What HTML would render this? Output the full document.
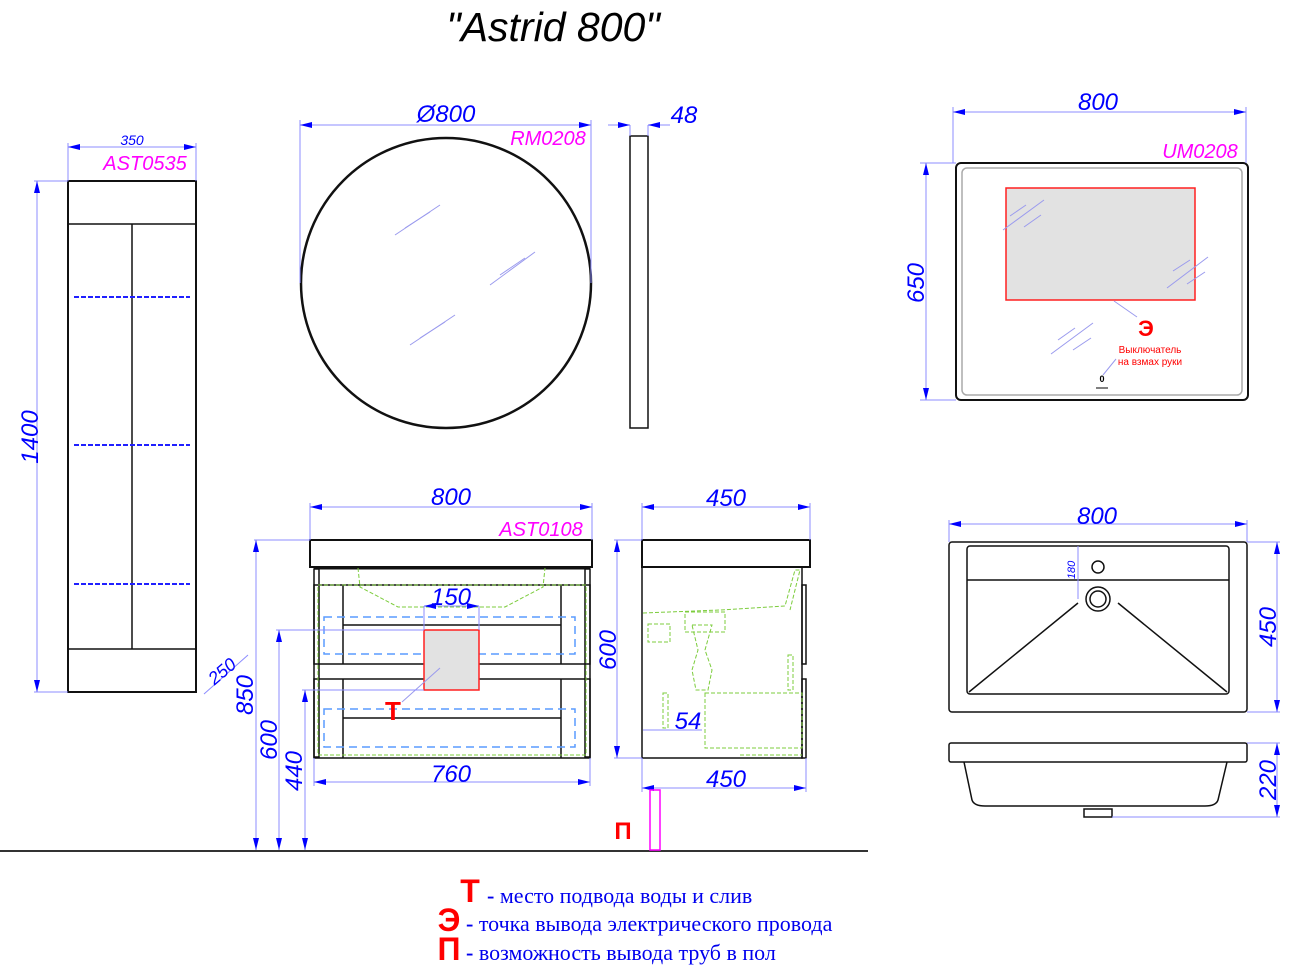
<!DOCTYPE html>
<html><head><meta charset="utf-8"><style>
html,body{margin:0;padding:0;background:#fff;}
svg{display:block;}
.d{font-family:"Liberation Sans",sans-serif;font-style:italic;fill:#0000ff;font-size:24px;text-anchor:middle;}
.m{font-family:"Liberation Sans",sans-serif;font-style:italic;fill:#ff00ff;font-size:20px;text-anchor:middle;}
.dl{stroke:#8c8cff;stroke-width:1;fill:none;}
.k{stroke:#111;stroke-width:2;fill:none;}
.k1{stroke:#111;stroke-width:1.5;fill:none;}
.g{stroke:#7ccc3c;stroke-width:1;fill:none;stroke-dasharray:4 2;}
.bd{stroke:#5a9cff;stroke-width:1.5;fill:none;stroke-dasharray:8 5;}
.gl{stroke:#9a9aee;stroke-width:1;}
.lg{font-family:"Liberation Serif",serif;fill:#0000ee;font-size:22px;}
.rb{font-family:"Liberation Sans",sans-serif;font-weight:bold;fill:#ff0000;}
</style></head><body>
<svg width="1312" height="967" viewBox="0 0 1312 967" xmlns="http://www.w3.org/2000/svg">
<defs>
<marker id="a" viewBox="0 0 12 6" refX="12" refY="3" markerWidth="12" markerHeight="6" orient="auto-start-reverse" markerUnits="userSpaceOnUse"><path d="M0,0 L12,3 L0,6 z" fill="#0000ff"/></marker>
</defs>
<text x="553" y="41" style="font-family:'Liberation Sans',sans-serif;font-style:italic;font-size:41px;text-anchor:middle;fill:#000">"Astrid 800"</text>

<!-- tall cabinet -->
<rect x="68" y="181" width="128" height="511" class="k"/>
<line x1="68" y1="224" x2="196" y2="224" class="k1"/>
<line x1="68" y1="649" x2="196" y2="649" class="k1"/>
<line x1="132" y1="224" x2="132" y2="649" class="k1"/>
<g stroke="#2020ff" stroke-width="2" stroke-dasharray="5 2">
<line x1="74" y1="297" x2="190" y2="297"/><line x1="74" y1="445" x2="190" y2="445"/><line x1="74" y1="584" x2="190" y2="584"/></g>
<line x1="68" y1="143" x2="68" y2="181" class="dl"/><line x1="196" y1="143" x2="196" y2="181" class="dl"/>
<line x1="68" y1="147" x2="196" y2="147" class="dl" marker-start="url(#a)" marker-end="url(#a)"/>
<text x="132" y="145" class="d" style="font-size:14px">350</text>
<text x="145" y="170" class="m">AST0535</text>
<line x1="34" y1="181" x2="68" y2="181" class="dl"/><line x1="34" y1="692" x2="68" y2="692" class="dl"/>
<line x1="37" y1="181" x2="37" y2="692" class="dl" marker-start="url(#a)" marker-end="url(#a)"/>
<text transform="translate(38,437) rotate(-90)" class="d">1400</text>
<line x1="204" y1="694" x2="248" y2="655" class="dl"/>
<text transform="translate(226,676) rotate(-40)" class="d" style="font-size:18px">250</text>

<!-- round mirror -->
<circle cx="446" cy="283" r="145" stroke="#111" stroke-width="2.5" fill="none"/>
<line x1="300" y1="120" x2="300" y2="283" class="dl"/><line x1="591" y1="120" x2="591" y2="283" class="dl"/>
<line x1="300" y1="125" x2="591" y2="125" class="dl" marker-start="url(#a)" marker-end="url(#a)"/>
<text x="446" y="122" class="d">Ø800</text>
<text x="548" y="145" class="m">RM0208</text>
<g class="gl"><line x1="395" y1="235" x2="440" y2="205"/><line x1="405" y1="228" x2="430" y2="212"/><line x1="490" y1="285" x2="535" y2="252"/><line x1="500" y1="275" x2="525" y2="258"/><line x1="410" y1="345" x2="455" y2="315"/><line x1="420" y1="338" x2="445" y2="322"/></g>
<rect x="630" y="136" width="18" height="292" class="k1"/>
<line x1="630" y1="125" x2="630" y2="136" class="dl"/><line x1="648" y1="125" x2="648" y2="136" class="dl"/>
<line x1="608" y1="125" x2="630" y2="125" class="dl" marker-end="url(#a)"/>
<line x1="670" y1="125" x2="648" y2="125" class="dl" marker-end="url(#a)"/>
<text x="684" y="123" class="d">48</text>

<!-- UM0208 mirror -->
<rect x="956" y="163" width="292" height="237" rx="5" class="k"/>
<rect x="962" y="168" width="280" height="227" rx="5" stroke="#aaa" stroke-width="1.5" fill="none"/>
<rect x="1006" y="188" width="189" height="112" fill="#e2e2e2" stroke="#ff2020" stroke-width="1.5"/>
<g class="gl"><line x1="1003" y1="230" x2="1044" y2="200"/><line x1="1010" y1="216" x2="1026" y2="205"/><line x1="1024" y1="227" x2="1041" y2="215"/><line x1="1167" y1="288" x2="1208" y2="257"/><line x1="1173" y1="271" x2="1190" y2="260"/><line x1="1187" y1="284" x2="1205" y2="272"/><line x1="1051" y1="354" x2="1093" y2="323"/><line x1="1058" y1="340" x2="1075" y2="328"/><line x1="1073" y1="350" x2="1091" y2="338"/><line x1="1114" y1="301" x2="1137" y2="317"/><line x1="1116" y1="359" x2="1103" y2="375"/></g>
<text x="1146" y="336" class="rb" style="font-size:22px;text-anchor:middle">Э</text>
<text x="1150" y="353" class="rb" style="font-size:10px;font-weight:normal;text-anchor:middle">Выключатель</text>
<text x="1150" y="365" class="rb" style="font-size:10px;font-weight:normal;text-anchor:middle">на взмах руки</text>
<text x="1102" y="382" style="font-family:'Liberation Sans',sans-serif;font-size:9px;font-weight:bold;text-anchor:middle">0</text>
<line x1="1096" y1="388" x2="1108" y2="388" stroke="#000" stroke-width="1"/>
<line x1="953" y1="107" x2="953" y2="163" class="dl"/><line x1="1246" y1="107" x2="1246" y2="163" class="dl"/>
<line x1="953" y1="112" x2="1246" y2="112" class="dl" marker-start="url(#a)" marker-end="url(#a)"/>
<text x="1098" y="110" class="d">800</text>
<text x="1200" y="158" class="m">UM0208</text>
<line x1="920" y1="163" x2="956" y2="163" class="dl"/><line x1="920" y1="400" x2="956" y2="400" class="dl"/>
<line x1="926" y1="163" x2="926" y2="400" class="dl" marker-start="url(#a)" marker-end="url(#a)"/>
<text transform="translate(924,283) rotate(-90)" class="d">650</text>

<!-- vanity front -->
<rect x="310" y="540" width="282" height="27" class="k"/>
<line x1="314" y1="568" x2="590" y2="568" stroke="#111" stroke-width="3"/>
<rect x="314" y="569" width="5" height="188" class="k1"/><rect x="585" y="569" width="5" height="188" class="k1"/>
<rect x="314" y="585" width="276" height="79" class="k1"/>
<rect x="314" y="679" width="276" height="79" class="k1"/>
<line x1="343" y1="585" x2="343" y2="664" class="k1"/><line x1="561" y1="585" x2="561" y2="664" class="k1"/>
<line x1="343" y1="679" x2="343" y2="758" class="k1"/><line x1="561" y1="679" x2="561" y2="758" class="k1"/>
<line x1="343" y1="625" x2="561" y2="625" class="k1"/><line x1="343" y1="718" x2="561" y2="718" class="k1"/>
<polyline points="358,568 360,587 398,607 505,607 543,587 545,568" class="g"/>
<rect x="318" y="585" width="268" height="170" class="g"/>
<rect x="324" y="617" width="251" height="37" class="bd"/>
<rect x="324" y="709" width="251" height="38" class="bd"/>
<rect x="424" y="630" width="55" height="60" fill="#e2e2e2" stroke="#ff2020" stroke-width="1.5"/>
<line x1="402" y1="702" x2="440" y2="668" class="gl"/>
<line x1="424" y1="606" x2="424" y2="630" class="dl"/><line x1="479" y1="606" x2="479" y2="630" class="dl"/>
<line x1="424" y1="606" x2="479" y2="606" class="dl" marker-start="url(#a)" marker-end="url(#a)"/>
<text x="451" y="605" class="d">150</text>
<line x1="310" y1="503" x2="310" y2="540" class="dl"/><line x1="592" y1="503" x2="592" y2="540" class="dl"/>
<line x1="310" y1="507" x2="592" y2="507" class="dl" marker-start="url(#a)" marker-end="url(#a)"/>
<text x="451" y="505" class="d">800</text>
<text x="541" y="536" class="m">AST0108</text>
<line x1="314" y1="758" x2="314" y2="786" class="dl"/><line x1="590" y1="758" x2="590" y2="786" class="dl"/>
<line x1="314" y1="782" x2="590" y2="782" class="dl" marker-start="url(#a)" marker-end="url(#a)"/>
<text x="451" y="782" class="d">760</text>
<text x="393" y="720" class="rb" style="font-size:26px;text-anchor:middle">Т</text>

<!-- height dims -->
<line x1="254" y1="540" x2="310" y2="540" class="dl"/>
<line x1="276" y1="630" x2="424" y2="630" class="dl"/>
<line x1="302" y1="690" x2="424" y2="690" class="dl"/>
<line x1="256" y1="540" x2="256" y2="850" class="dl" marker-start="url(#a)" marker-end="url(#a)"/>
<line x1="279" y1="630" x2="279" y2="850" class="dl" marker-start="url(#a)" marker-end="url(#a)"/>
<line x1="305" y1="690" x2="305" y2="850" class="dl" marker-start="url(#a)" marker-end="url(#a)"/>
<text transform="translate(253,695) rotate(-90)" class="d">850</text>
<text transform="translate(277,740) rotate(-90)" class="d">600</text>
<text transform="translate(302,771) rotate(-90)" class="d">440</text>
<line x1="0" y1="851" x2="868" y2="851" stroke="#333" stroke-width="2"/>

<!-- side view -->
<rect x="642" y="540" width="168" height="27" class="k"/>
<rect x="642" y="567" width="160" height="191" class="k1"/>
<rect x="802" y="585" width="4" height="79" class="k1"/><rect x="802" y="679" width="4" height="79" class="k1"/>
<g class="g"><polyline points="643,613 720,610 785,606 795,570 800,570 790,610"/><rect x="685" y="612" width="40" height="20"/><path d="M692,625 L712,625 L705,650 L712,670 L708,690 L696,690 L692,670 L698,650 Z"/><rect x="648" y="624" width="22" height="18"/><rect x="705" y="693" width="97" height="55"/><rect x="663" y="693" width="5" height="35"/><rect x="788" y="655" width="5" height="35"/><line x1="740" y1="755" x2="802" y2="755"/></g>
<line x1="614" y1="540" x2="642" y2="540" class="dl"/><line x1="614" y1="758" x2="642" y2="758" class="dl"/>
<line x1="617" y1="540" x2="617" y2="758" class="dl" marker-start="url(#a)" marker-end="url(#a)"/>
<text transform="translate(616,650) rotate(-90)" class="d">600</text>
<line x1="643" y1="730" x2="702" y2="730" class="dl"/>
<text x="688" y="729" class="d">54</text>
<line x1="642" y1="503" x2="642" y2="540" class="dl"/><line x1="810" y1="503" x2="810" y2="540" class="dl"/>
<line x1="642" y1="507" x2="810" y2="507" class="dl" marker-start="url(#a)" marker-end="url(#a)"/>
<text x="726" y="506" class="d">450</text>
<line x1="642" y1="758" x2="642" y2="792" class="dl"/><line x1="806" y1="758" x2="806" y2="792" class="dl"/>
<line x1="642" y1="788" x2="806" y2="788" class="dl" marker-start="url(#a)" marker-end="url(#a)"/>
<text x="726" y="787" class="d">450</text>
<rect x="650" y="790" width="10" height="60" fill="none" stroke="#ff00ff" stroke-width="1.5"/>
<text x="623" y="839" class="rb" style="font-size:24px;text-anchor:middle">П</text>

<!-- sink plan -->
<rect x="949" y="542" width="298" height="170" rx="3" class="k1"/>
<rect x="967" y="546" width="262" height="148" rx="3" class="k1"/>
<line x1="967" y1="580" x2="1229" y2="580" class="k1"/>
<circle cx="1098" cy="567" r="6" class="k1"/>
<circle cx="1098" cy="599" r="12" class="k1"/><circle cx="1098" cy="599" r="8" class="k1"/>
<line x1="1078" y1="603" x2="969" y2="692" class="k1"/><line x1="1118" y1="603" x2="1227" y2="692" class="k1"/>
<line x1="1078" y1="546" x2="1078" y2="599" class="dl"/>
<text transform="translate(1075,570) rotate(-90)" class="d" style="font-size:11px">180</text>
<line x1="949" y1="520" x2="949" y2="542" class="dl"/><line x1="1247" y1="520" x2="1247" y2="542" class="dl"/>
<line x1="949" y1="524" x2="1247" y2="524" class="dl" marker-start="url(#a)" marker-end="url(#a)"/>
<text x="1097" y="524" class="d">800</text>
<line x1="1247" y1="542" x2="1280" y2="542" class="dl"/><line x1="1247" y1="712" x2="1280" y2="712" class="dl"/>
<line x1="1277" y1="542" x2="1277" y2="712" class="dl" marker-start="url(#a)" marker-end="url(#a)"/>
<text transform="translate(1276,627) rotate(-90)" class="d">450</text>
<!-- sink side -->
<rect x="949" y="743" width="298" height="19" rx="2" class="k1"/>
<path d="M964,762 L972,800 Q974,806 985,806 L1205,806 Q1216,806 1218,800 L1227,762" class="k1"/>
<rect x="1084" y="809" width="28" height="8" class="k1"/>
<line x1="1247" y1="743" x2="1280" y2="743" class="dl"/><line x1="1112" y1="817" x2="1280" y2="817" class="dl"/>
<line x1="1277" y1="743" x2="1277" y2="817" class="dl" marker-start="url(#a)" marker-end="url(#a)"/>
<text transform="translate(1276,780) rotate(-90)" class="d">220</text>

<!-- legend -->
<text x="470" y="902" class="rb" style="font-size:32px;text-anchor:middle">Т</text>
<text x="487" y="903" class="lg"><tspan font-weight="bold">-</tspan> место подвода воды и слив</text>
<text x="449" y="931" class="rb" style="font-size:32px;text-anchor:middle">Э</text>
<text x="466" y="931" class="lg"><tspan font-weight="bold">-</tspan>  точка вывода электрического провода</text>
<text x="449" y="960" class="rb" style="font-size:32px;text-anchor:middle">П</text>
<text x="466" y="960" class="lg"><tspan font-weight="bold">-</tspan> возможность вывода труб в пол</text>
</svg>
</body></html>
